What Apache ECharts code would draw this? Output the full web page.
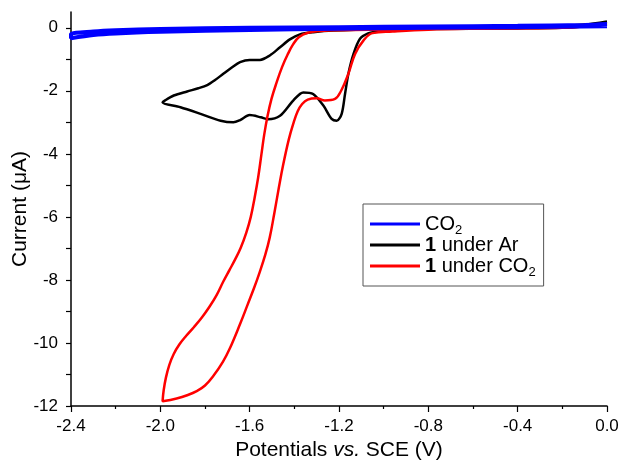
<!DOCTYPE html>
<html>
<head>
<meta charset="utf-8">
<script src="https://cdn.jsdelivr.net/npm/echarts@6/dist/echarts.min.js"></script>
<style>
  html, body { margin: 0; padding: 0; background: #fff; }
  #main { width: 621px; height: 462px; }
</style>
</head>
<body>
<div id="main"></div>
<script>
// 刻度
var yTicks = [-12, -11, -10, -9, -8, -7, -6, -5, -4, -3, -2, -1, 0];
var yLabels = [-12, -10, -8, -6, -4, -2, 0];

// CO2 (空白)
var co2Potential = [0, -0.4, -0.8, -1.2, -1.6, -2.0, -2.2, -2.3, -2.4,
  -2.4, -2.3, -2.2, -2.0, -1.6, -1.2, -0.8, -0.4, -0.1, 0];
var co2Current = [0.05, 0.02, 0.0, -0.03, -0.07, -0.13, -0.18, -0.23, -0.33,
  -0.2, -0.12, -0.08, -0.04, 0.0, 0.02, 0.04, 0.06, 0.09, 0.12];

// 1 under Ar
var arPotential = [0, -0.1, -0.2, -0.4, -0.8, -1.0, -1.03, -1.07, -1.106, -1.135, -1.158, -1.173, -1.188, -1.21,
  -1.233, -1.27, -1.316, -1.36, -1.405, -1.464, -1.518, -1.55, -1.6, -1.643, -1.673, -1.73, -1.82, -1.91, -1.99,
  -1.98, -1.94, -1.88, -1.83, -1.79, -1.755, -1.718, -1.68, -1.643, -1.6, -1.554, -1.51, -1.464, -1.42, -1.375, -1.315, -1.225,
  -1.0, -0.6, -0.3, -0.1, 0];
var arCurrent = [0.15, 0.05, 0.0, -0.02, -0.04, -0.08, -0.12, -0.18, -0.35, -0.83, -1.46, -2.1, -2.73, -2.95,
  -2.89, -2.47, -2.1, -2.05, -2.31, -2.79, -2.9, -2.84, -2.77, -2.93, -3.0, -2.95, -2.73, -2.52, -2.37,
  -2.31, -2.15, -2.02, -1.92, -1.82, -1.66, -1.46, -1.26, -1.09, -1.02, -1.02, -0.88, -0.62, -0.37, -0.21, -0.14, -0.09,
  -0.05, -0.02, 0.02, 0.1, 0.2];

// 1 under CO2
var co2CatPotential = [0, -0.2, -0.6, -0.8, -0.96, -1.05, -1.09, -1.128, -1.158, -1.19, -1.218, -1.263, -1.30, -1.34,
  -1.365, -1.385, -1.405, -1.425, -1.45, -1.47, -1.49, -1.51, -1.53, -1.555, -1.58, -1.61, -1.643, -1.688, -1.72,
  -1.763, -1.80, -1.837, -1.88, -1.927, -1.99,
  -1.985, -1.975, -1.96, -1.94, -1.915, -1.885, -1.85, -1.815, -1.78, -1.748, -1.718, -1.69, -1.665,
  -1.64, -1.615, -1.595, -1.578, -1.562, -1.548, -1.535, -1.52, -1.502, -1.48, -1.455, -1.43, -1.405, -1.38, -1.34, -1.28, -1.2,
  -0.8, -0.4, -0.1, 0];
var co2CatCurrent = [0.12, 0.0, -0.03, -0.06, -0.12, -0.17, -0.4, -0.83, -1.46, -1.99, -2.26, -2.31, -2.24, -2.28,
  -2.42, -2.65, -3.05, -3.55, -4.35, -5.1, -5.9, -6.65, -7.2, -7.75, -8.25, -8.8, -9.4, -10.16, -10.6,
  -11.05, -11.35, -11.53, -11.66, -11.76, -11.85,
  -11.5, -11.1, -10.7, -10.35, -10.05, -9.78, -9.5, -9.2, -8.85, -8.48, -8.05, -7.68, -7.35,
  -6.98, -6.5, -6.0, -5.4, -4.75, -4.05, -3.4, -2.8, -2.25, -1.75, -1.25, -0.85, -0.52, -0.3, -0.16, -0.1, -0.08,
  -0.04, 0.0, 0.06, 0.12];

function zip(xs, ys) {
  var out = [];
  for (var i = 0; i < xs.length; i++) {
    out.push([xs[i], ys[i]]);
  }
  return out;
}

var myChart = echarts.init(document.getElementById('main'));
var font = 'Liberation Sans, Arial, sans-serif';

var option = {
  animation: false,
  textStyle: { fontFamily: font },
  grid: { left: 71, right: 14, top: 12, bottom: 56, containLabel: false, outerBoundsMode: 'none' },
  legend: {
    orient: 'vertical',
    left: 363,
    top: 204,
    padding: [7, 8, 7, 7],
    itemGap: -2,
    itemWidth: 50,
    itemHeight: 3,
    icon: 'rect',
    borderColor: '#555',
    borderWidth: 1,
    data: ['CO2', '1 under Ar', '1 under CO2'],
    formatter: function (name) {
      if (name === 'CO2') return '{n|CO}{s|2}';
      if (name === '1 under Ar') return '{b|1}{n| under Ar}';
      return '{b|1}{n| under CO}{s|2}';
    },
    textStyle: {
      fontFamily: font,
      rich: {
        n: { fontSize: 20, color: '#000', fontFamily: font, lineHeight: 26 },
        b: { fontSize: 20, color: '#000', fontWeight: 'bold', fontFamily: font, lineHeight: 26 },
        s: { fontSize: 13, color: '#000', fontFamily: font, padding: [13, 0, 0, 0], lineHeight: 13 }
      }
    }
  },
  xAxis: {
    type: 'value',
    min: -2.4,
    max: 0,
    interval: 0.4,
    name: '{n|Potentials }{i|vs.}{n| SCE (V)}',
    nameLocation: 'middle',
    nameGap: 34,
    nameMoveOverlap: false,
    nameTextStyle: {
      rich: {
        n: { fontSize: 21, color: '#000', fontFamily: font },
        i: { fontSize: 21, color: '#000', fontStyle: 'italic', fontFamily: font }
      }
    },
    axisLine: { onZero: false, lineStyle: { color: '#000', width: 1.5 } },
    axisTick: { length: 6, lineStyle: { color: '#000', width: 1.2 } },
    minorTick: { show: true, splitNumber: 2, length: 3, lineStyle: { color: '#000', width: 1.2 } },
    splitLine: { show: false },
    axisLabel: {
      color: '#000',
      fontSize: 17,
      margin: 12,
      formatter: function (v) { return v.toFixed(1); }
    }
  },
  yAxis: {
    type: 'value',
    min: -12,
    max: 0.5,
    interval: 1,
    name: 'Current (\u03bcA)',
    nameLocation: 'middle',
    nameGap: 40,
    nameMoveOverlap: false,
    nameTextStyle: { fontSize: 21, color: '#000', fontFamily: font },
    axisLine: { show: true, onZero: false, lineStyle: { color: '#000', width: 1.5 } },
    axisTick: { show: true, length: 5, customValues: yTicks, lineStyle: { color: '#000', width: 1.2 } },
    splitLine: { show: false },
    axisLabel: {
      color: '#000',
      fontSize: 17,
      margin: 13,
      customValues: yLabels
    }
  },
  series: [
    {
      name: 'CO2',
      type: 'line',
      data: zip(co2Potential, co2Current),
      showSymbol: false,
      smooth: 0.3,
      z: 4,
      lineStyle: { color: '#0000ff', width: 4 },
      itemStyle: { color: '#0000ff' }
    },
    {
      name: '1 under Ar',
      type: 'line',
      data: zip(arPotential, arCurrent),
      showSymbol: false,
      smooth: 0.3,
      lineStyle: { color: '#000000', width: 2.5 },
      itemStyle: { color: '#000000' }
    },
    {
      name: '1 under CO2',
      type: 'line',
      data: zip(co2CatPotential, co2CatCurrent),
      showSymbol: false,
      smooth: 0.4,
      lineStyle: { color: '#ff0000', width: 2.5 },
      itemStyle: { color: '#ff0000' }
    }
  ]
};
myChart.setOption(option);
</script>
</body>
</html>
